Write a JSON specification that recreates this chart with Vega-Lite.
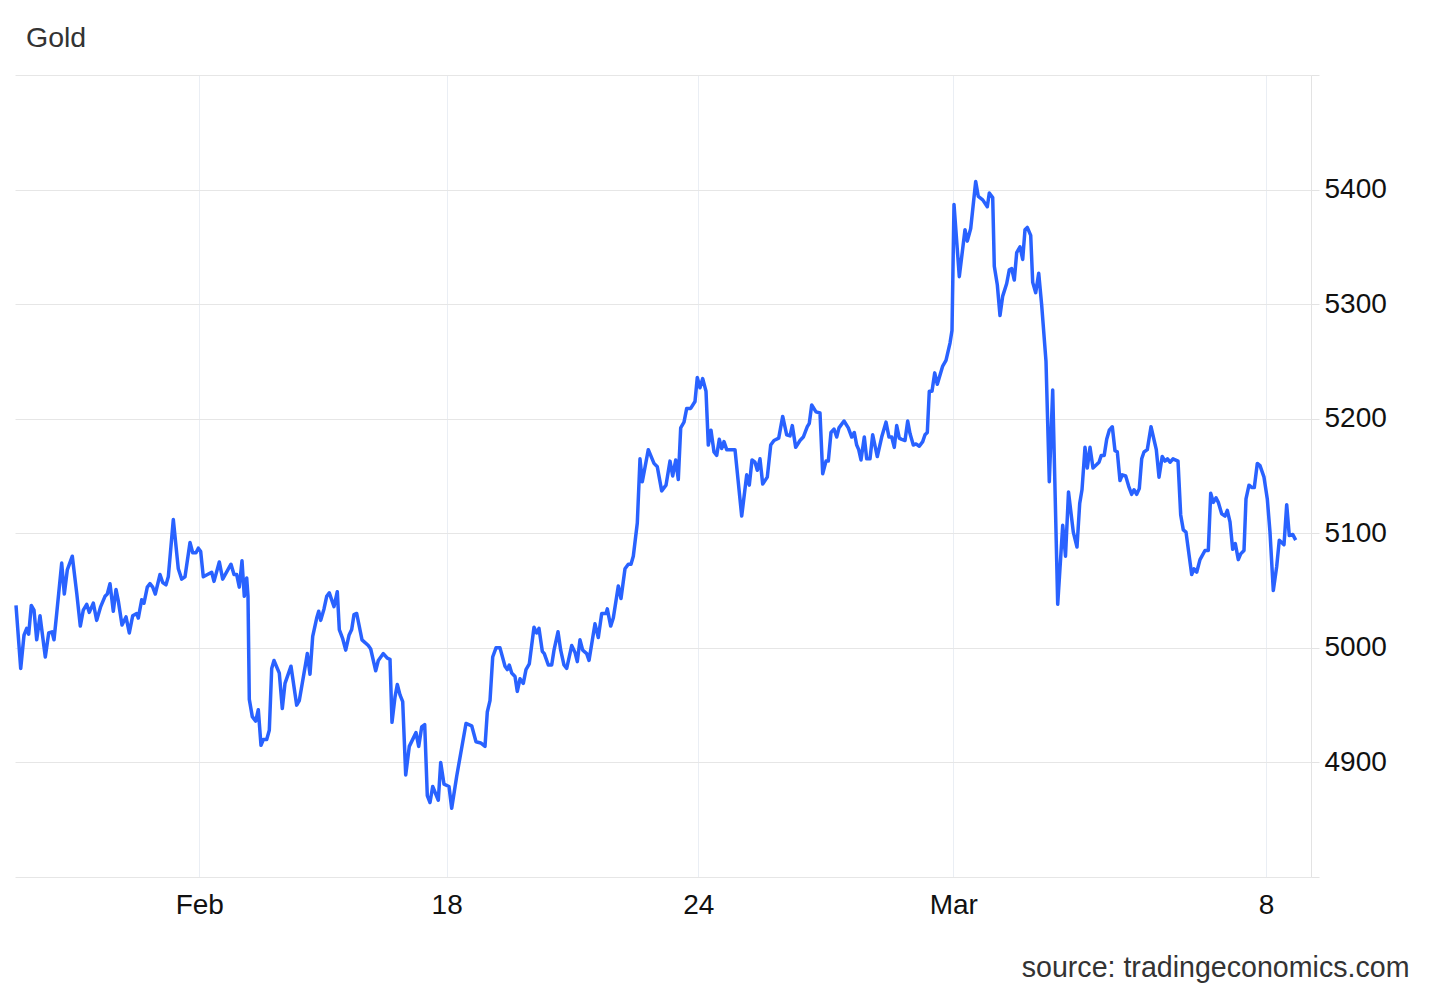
{
 "$schema": "https://vega.github.io/schema/vega-lite/v6.json",
 "autosize": "none",
 "width": 1296,
 "height": 802,
 "padding": {"left": 15, "top": 75, "right": 118, "bottom": 113},
 "background": "white",
 "title": {"text": "Gold", "anchor": "start", "frame": "group", "dx": 11, "dy": 42, "offset": 28, "baseline": "alphabetic", "font": "Liberation Sans", "fontSize": 28.5, "fontWeight": "normal", "color": "#333333"},
 "data": {"values": [
{"t":1,"price":5037},{"t":5.7,"price":4982},{"t":9,"price":5011},{"t":11.7,"price":5017},{"t":13.7,"price":5012},{"t":16.3,"price":5037},{"t":19,"price":5033},{"t":21.7,"price":5007},{"t":25,"price":5028},{"t":30.3,"price":4992},{"t":33.7,"price":5013},{"t":37,"price":5014},{"t":39,"price":5007},{"t":41.7,"price":5030},{"t":46.7,"price":5074},{"t":49.3,"price":5047},{"t":52.3,"price":5068},{"t":57.3,"price":5080},{"t":61.7,"price":5048},{"t":65.3,"price":5019},{"t":68.3,"price":5033},{"t":71.7,"price":5038},{"t":74.3,"price":5031},{"t":78.3,"price":5039},{"t":81.7,"price":5024},{"t":85.7,"price":5036},{"t":90,"price":5045},{"t":92.3,"price":5047},{"t":95,"price":5056},{"t":98.3,"price":5032},{"t":101,"price":5051},{"t":103.3,"price":5041},{"t":107,"price":5020},{"t":111,"price":5027},{"t":114.3,"price":5013},{"t":117.7,"price":5028},{"t":121.7,"price":5030},{"t":123.3,"price":5026},{"t":126.7,"price":5042},{"t":129,"price":5039},{"t":132.3,"price":5053},{"t":135,"price":5056},{"t":137.7,"price":5053},{"t":140.3,"price":5047},{"t":145,"price":5064},{"t":147.7,"price":5057},{"t":151,"price":5055},{"t":153.3,"price":5062},{"t":158.3,"price":5112},{"t":163.3,"price":5069},{"t":166.7,"price":5060},{"t":170,"price":5062},{"t":175,"price":5092},{"t":177.7,"price":5083},{"t":181,"price":5083},{"t":183.3,"price":5087},{"t":185.7,"price":5084},{"t":188.3,"price":5062},
{"t":196.7,"price":5066},{"t":199,"price":5058},{"t":204.3,"price":5075},{"t":207.7,"price":5060},{"t":216,"price":5073},{"t":219,"price":5064},{"t":221.7,"price":5064},{"t":224.3,"price":5053},{"t":227,"price":5076},{"t":229.3,"price":5045},{"t":231.7,"price":5061},{"t":233,"price":5045},{"t":234.3,"price":4955},{"t":237.3,"price":4940},{"t":240.7,"price":4936},{"t":243.3,"price":4946},{"t":246,"price":4915},{"t":248.3,"price":4920},{"t":251.7,"price":4920},{"t":254.3,"price":4928},{"t":256.7,"price":4982},{"t":259,"price":4989},{"t":264.3,"price":4978},{"t":267.3,"price":4947},{"t":270,"price":4969},{"t":276,"price":4984},{"t":281.7,"price":4950},{"t":284.3,"price":4954},{"t":291,"price":4988},{"t":292.3,"price":4995},{"t":295,"price":4977},{"t":297.7,"price":5010},{"t":301.7,"price":5026},{"t":303.7,"price":5032},{"t":305.7,"price":5024},{"t":309,"price":5034},{"t":311.7,"price":5045},{"t":314.3,"price":5048},{"t":319,"price":5036},{"t":322.3,"price":5049},{"t":324.3,"price":5016},{"t":327.7,"price":5008},{"t":330.7,"price":4998},{"t":334,"price":5011},{"t":336.7,"price":5016},{"t":339,"price":5029},{"t":341.7,"price":5030},{"t":347,"price":5007},{"t":353.3,"price":5002},{"t":355.7,"price":4999},{"t":360.7,"price":4980},{"t":363.3,"price":4989},{"t":368.3,"price":4995},{"t":372.3,"price":4991},{"t":375,"price":4990},{"t":377,"price":4935},{"t":380,"price":4957},{"t":382.3,"price":4968},{"t":385,"price":4959},{"t":387.7,"price":4953},{"t":390.7,"price":4889},
{"t":394.3,"price":4914},{"t":401,"price":4926},{"t":403.7,"price":4914},{"t":406.7,"price":4931},{"t":409.7,"price":4933},{"t":412.3,"price":4871},{"t":415,"price":4865},{"t":417.7,"price":4879},{"t":423.3,"price":4867},{"t":425.7,"price":4900},{"t":429,"price":4881},{"t":434,"price":4879},{"t":436.7,"price":4860},{"t":441.7,"price":4888},{"t":451,"price":4934},{"t":456.7,"price":4932},{"t":461,"price":4918},{"t":465.7,"price":4917},{"t":470,"price":4914},{"t":472.3,"price":4944},{"t":475,"price":4954},{"t":477.7,"price":4992},{"t":481,"price":5000},{"t":485,"price":5000},{"t":490,"price":4984},{"t":492.3,"price":4981},{"t":494.3,"price":4985},{"t":496.7,"price":4978},{"t":500,"price":4975},{"t":502.3,"price":4962},{"t":505,"price":4973},{"t":508.3,"price":4969},{"t":511,"price":4981},{"t":514.3,"price":4986},{"t":519,"price":5018},{"t":521.7,"price":5013},{"t":524,"price":5017},{"t":527.3,"price":4997},{"t":529.3,"price":4995},{"t":533.3,"price":4985},{"t":536.7,"price":4985},{"t":539,"price":4998},{"t":543,"price":5014},{"t":545.7,"price":4998},{"t":549,"price":4985},{"t":551.7,"price":4982},{"t":556.7,"price":5002},{"t":560,"price":4996},{"t":562.3,"price":4988},{"t":565,"price":5007},{"t":567.7,"price":4998},{"t":571.7,"price":4995},{"t":574,"price":4989},{"t":580,"price":5021},{"t":583.3,"price":5009},{"t":586.7,"price":5030},{"t":591,"price":5030},{"t":592.3,"price":5034},{"t":595.7,"price":5019},{"t":598.3,"price":5026},{"t":603.3,"price":5054},{"t":606,"price":5043},{"t":610,"price":5069},{"t":613.3,"price":5073},{"t":616,"price":5073},{"t":618.3,"price":5080},{"t":622.3,"price":5109},{"t":625,"price":5165},{"t":627.3,"price":5145},{"t":633.3,"price":5173},{"t":639,"price":5161},{"t":642.3,"price":5158},{"t":646.7,"price":5137},{"t":651,"price":5142},{"t":655,"price":5163},{"t":657.7,"price":5150},{"t":660.7,"price":5164},{"t":663.3,"price":5147},{"t":665.7,"price":5192},{"t":669,"price":5197},{"t":671.7,"price":5209},{"t":675.7,"price":5209},{"t":680,"price":5215},{"t":682.3,"price":5236},{"t":685,"price":5227},{"t":687.7,"price":5235},{"t":691,"price":5224},{"t":693.3,"price":5177},{"t":696,"price":5190},{"t":699,"price":5171},{"t":701.7,"price":5168},{"t":704.3,"price":5182},{"t":706.7,"price":5174},{"t":709,"price":5180},{"t":711.7,"price":5173},{"t":715.7,"price":5173},{"t":720,"price":5173},{"t":726.7,"price":5115},{"t":731.7,"price":5151},{"t":734.3,"price":5142},{"t":737,"price":5164},{"t":740,"price":5162},{"t":742.3,"price":5155},{"t":745,"price":5165},{"t":747.7,"price":5143},{"t":752.3,"price":5149},{"t":755.7,"price":5177},{"t":759,"price":5181},{"t":763.7,"price":5183},{"t":767.7,"price":5202},{"t":771.7,"price":5186},{"t":775,"price":5185},{"t":777.3,"price":5194},{"t":780.7,"price":5175},{"t":785,"price":5181},{"t":788.3,"price":5184},{"t":792.3,"price":5193},{"t":794.3,"price":5196},{"t":796.7,"price":5212},{"t":801,"price":5206},{"t":805,"price":5205},{"t":807.7,"price":5152},{"t":811,"price":5163},{"t":813.3,"price":5163},{"t":816,"price":5188},{"t":819,"price":5191},{"t":821.7,"price":5184},{"t":824,"price":5192},{"t":829,"price":5198},{"t":833.3,"price":5192},{"t":836.7,"price":5184},{"t":839.3,"price":5188},{"t":841.7,"price":5177},{"t":843.7,"price":5173},{"t":846,"price":5164},{"t":849.3,"price":5184},{"t":851.7,"price":5165},{"t":855,"price":5165},{"t":857.7,"price":5186},{"t":862.3,"price":5167},{"t":866.7,"price":5184},{"t":871,"price":5197},{"t":874,"price":5184},{"t":876.7,"price":5184},{"t":879.3,"price":5175},{"t":881.7,"price":5194},{"t":884.3,"price":5183},{"t":886.7,"price":5182},{"t":890,"price":5181},{"t":892.7,"price":5198},{"t":895,"price":5187},{"t":898.3,"price":5177},{"t":901,"price":5178},{"t":904.3,"price":5176},{"t":907.7,"price":5180},{"t":910,"price":5186},{"t":912.3,"price":5188},{"t":914.3,"price":5224},{"t":917,"price":5224},{"t":919.7,"price":5240},{"t":922.3,"price":5230},{"t":927.7,"price":5246},{"t":931,"price":5251},{"t":935,"price":5266},{"t":937,"price":5277},{"t":939,"price":5387},{"t":944.3,"price":5324},{"t":950,"price":5365},{"t":952.3,"price":5355},{"t":955.7,"price":5366},{"t":960.7,"price":5407},{"t":963.3,"price":5394},{"t":967.7,"price":5391},{"t":972.3,"price":5385},{"t":974.3,"price":5397},{"t":977.7,"price":5393},{"t":979.3,"price":5333},{"t":982.3,"price":5317},{"t":985,"price":5290},{"t":987.7,"price":5307},{"t":991.7,"price":5318},{"t":994.3,"price":5330},{"t":996.7,"price":5331},{"t":999.3,"price":5321},{"t":1001.7,"price":5345},{"t":1005,"price":5350},{"t":1007.7,"price":5339},{"t":1010,"price":5365},{"t":1012.3,"price":5367},{"t":1015.7,"price":5360},{"t":1017.7,"price":5319},{"t":1020.7,"price":5310},{"t":1023.7,"price":5327},{"t":1026.7,"price":5299},{"t":1031,"price":5250},{"t":1034.3,"price":5145},{"t":1037.7,"price":5225},{"t":1042.7,"price":5038},{"t":1047.7,"price":5107},{"t":1050.5,"price":5080},{"t":1053.5,"price":5136},{"t":1058.3,"price":5101},{"t":1062,"price":5088},{"t":1064.7,"price":5126},{"t":1067,"price":5138},{"t":1070,"price":5175},{"t":1072.3,"price":5157},{"t":1075,"price":5175},{"t":1078,"price":5157},{"t":1081.7,"price":5160},{"t":1084,"price":5162},{"t":1086.3,"price":5168},{"t":1089.2,"price":5168},{"t":1091.7,"price":5182},{"t":1094.3,"price":5190},{"t":1097.3,"price":5193},{"t":1100,"price":5172},{"t":1102.3,"price":5171},{"t":1105,"price":5146},{"t":1107.3,"price":5151},{"t":1110.7,"price":5150},{"t":1113.7,"price":5141},{"t":1116.7,"price":5134},{"t":1119,"price":5138},{"t":1121.7,"price":5134},{"t":1124.3,"price":5139},{"t":1126.7,"price":5165},{"t":1129,"price":5171},{"t":1132.3,"price":5173},{"t":1136,"price":5193},{"t":1141.3,"price":5173},{"t":1144,"price":5149},{"t":1147.2,"price":5167},{"t":1150,"price":5163},{"t":1152.5,"price":5165},{"t":1155,"price":5162},{"t":1158,"price":5165},{"t":1163,"price":5163},{"t":1165.7,"price":5116},{"t":1168.3,"price":5103},{"t":1171,"price":5101},{"t":1176.7,"price":5064},{"t":1179,"price":5069},{"t":1181.7,"price":5066},{"t":1185,"price":5077},{"t":1190,"price":5085},{"t":1193.3,"price":5085},{"t":1195.7,"price":5135},{"t":1198.3,"price":5127},{"t":1201,"price":5131},{"t":1203.3,"price":5127},{"t":1206.7,"price":5117},{"t":1210,"price":5115},{"t":1212.3,"price":5120},{"t":1215,"price":5110},{"t":1217.7,"price":5086},{"t":1220.3,"price":5091},{"t":1223.3,"price":5077},{"t":1225.7,"price":5082},{"t":1229,"price":5085},{"t":1231,"price":5130},{"t":1234,"price":5142},{"t":1236.7,"price":5140},{"t":1239.3,"price":5140},{"t":1242.3,"price":5161},{"t":1245,"price":5159},{"t":1249,"price":5149},{"t":1252.3,"price":5130},{"t":1255,"price":5101},{"t":1258.3,"price":5050},{"t":1261.7,"price":5071},{"t":1264.3,"price":5094},{"t":1266.7,"price":5092},{"t":1269,"price":5090},{"t":1271.7,"price":5125},{"t":1274.3,"price":5098},{"t":1277.7,"price":5099},{"t":1280.7,"price":5094}
 ]},
 "mark": {"type": "line", "color": "#2962ff", "strokeWidth": 3.5, "strokeJoin": "round"},
 "encoding": {
  "x": {"field": "t", "type": "quantitative",
   "scale": {"domain": [0, 1296], "nice": false, "zero": false},
   "axis": {"values": [184.3, 431.7, 683.3, 938.3, 1251],
    "labelExpr": "datum.value < 300 ? 'Feb' : datum.value < 500 ? '18' : datum.value < 800 ? '24' : datum.value < 1000 ? 'Mar' : '8'",
    "grid": true, "gridColor": "#eaeef4", "gridWidth": 1,
    "ticks": false, "tickSize": 0, "domain": false,
    "labelFont": "Liberation Sans", "labelFontSize": 28, "labelColor": "#111111",
    "labelPadding": 36, "labelBaseline": "alphabetic", "labelAlign": "center",
    "labelFlush": false, "labelOverlap": false,
    "title": "source: tradingeconomics.com", "titleX": 1394, "titleY": 99,
    "titleAlign": "right", "titleBaseline": "alphabetic", "titleFont": "Liberation Sans",
    "titleFontSize": 28.6, "titleFontWeight": "normal", "titleColor": "#333333"}},
  "y": {"field": "price", "type": "quantitative",
   "scale": {"domain": [4800, 5500], "nice": false, "zero": false},
   "axis": {"orient": "right", "values": [4800, 4900, 5000, 5100, 5200, 5300, 5400, 5500], "format": "d",
    "labelExpr": "datum.value == 4800 || datum.value == 5500 ? '' : datum.label",
    "grid": true, "gridColor": "#e6e6e6", "gridWidth": 1,
    "domain": true, "domainColor": "#e3e3e3", "ticks": true, "tickColor": "#e3e3e3", "tickSize": 8,
    "labelPadding": 5, "labelFont": "Liberation Sans", "labelFontSize": 28, "labelColor": "#111111",
    "labelFlush": false, "labelOverlap": false, "title": null}}
 },
 "config": {"view": {"stroke": null}}
}
